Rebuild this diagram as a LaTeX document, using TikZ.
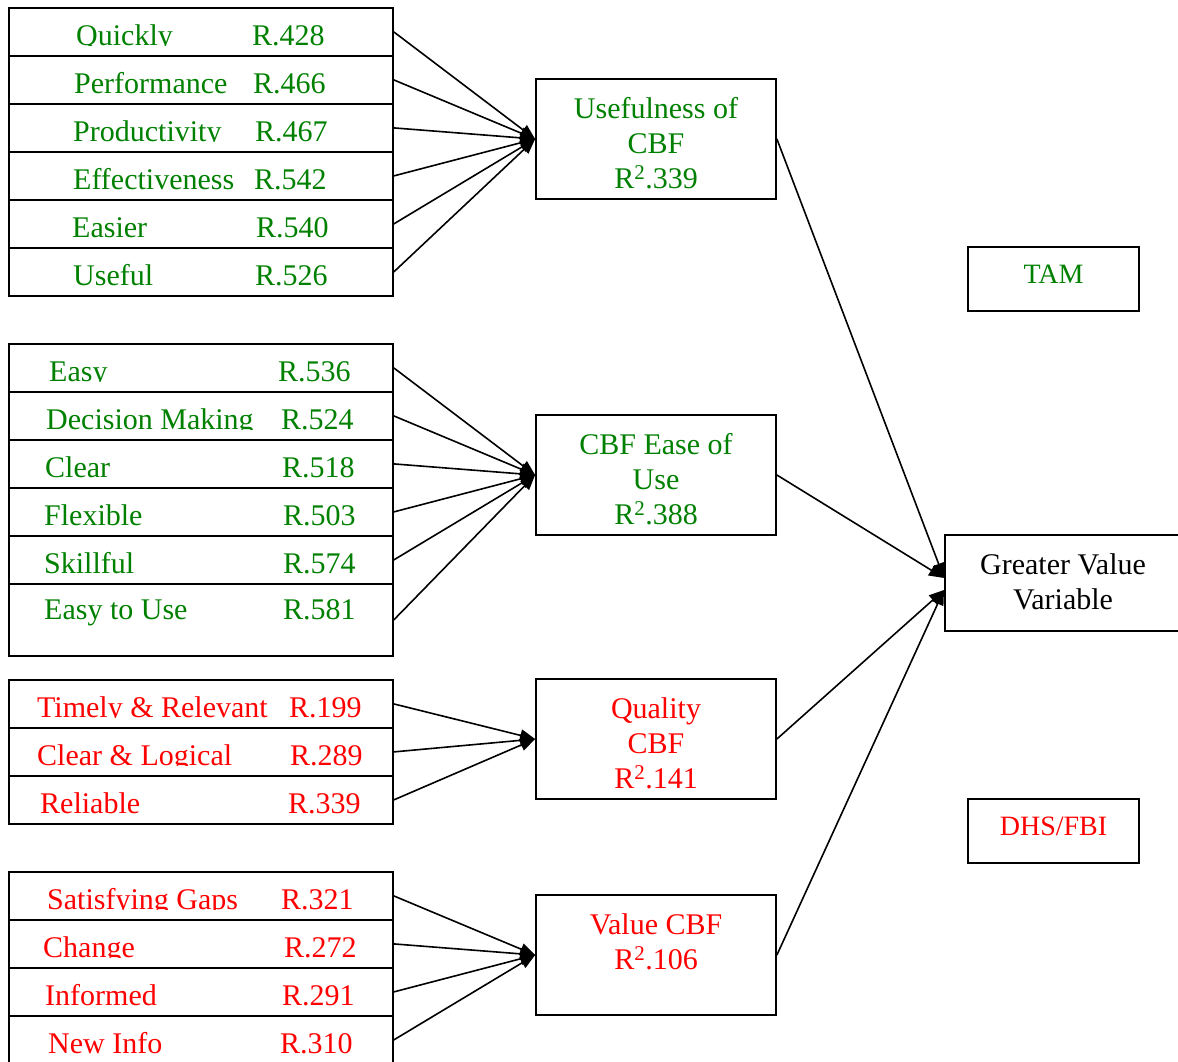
\documentclass[tikz,border=0pt]{standalone}
\usepackage{fontspec}
\setmainfont{Liberation Serif}
\usetikzlibrary{arrows.meta}
\definecolor{itemgreen}{RGB}{0,128,0}
\definecolor{itemred}{RGB}{255,0,0}

\tikzset{
  cell/.style={draw, line width=1.8pt, minimum width=384pt, inner sep=0pt, anchor=north west},
  rowtxt/.style={inner sep=0pt, anchor=base west, font=\fontsize{30}{35}\selectfont},
  construct/.style={draw, line width=1.8pt, minimum width=240pt, minimum height=120pt, inner sep=0pt},
  ctext/.style={inner sep=0pt, anchor=north, align=center, font=\fontsize{30}{35}\selectfont},
  tagbox/.style={draw, line width=1.8pt, minimum width=171pt, minimum height=64pt, inner sep=0pt},
  tagtxt/.style={inner sep=0pt, anchor=base, font=\fontsize{28}{34}\selectfont},
  link/.style={line width=1.6pt, -{Triangle[length=15pt,width=12pt]}},
}

% one indicator row: name, top, height, clip bottom, colour, label x, label, value x, value
\newcommand\itemrow[9]{%
  \node[cell, minimum height=#3pt] (#1) at (8,#2) {};
  \begin{scope}
    \clip (8,#2) rectangle (392,#4);
    \node[rowtxt, text=#5] (#1-name) at (#6,#2+38) {#7};
    \node[rowtxt, text=#5] (#1-val) at (#8,#2+38) {#9};
  \end{scope}}

\begin{document}
\begin{tikzpicture}[x=1pt,y=-1pt]
\useasboundingbox (0,0) rectangle (1178,1061);

% usefulness indicators
\itemrow{u1}{7}{48}{45}{itemgreen}{76}{Quickly}{252}{R.428}
\itemrow{u2}{55}{48}{93}{itemgreen}{74}{Performance}{253}{R.466}
\itemrow{u3}{103}{48}{141}{itemgreen}{73}{Productivity}{255}{R.467}
\itemrow{u4}{151}{48}{189}{itemgreen}{73}{Effectiveness}{254}{R.542}
\itemrow{u5}{199}{48}{237}{itemgreen}{72}{Easier}{256}{R.540}
\itemrow{u6}{247}{48}{285}{itemgreen}{73}{Useful}{255}{R.526}

% ease of use indicators
\itemrow{e1}{343}{48}{381}{itemgreen}{49}{Easy}{278}{R.536}
\itemrow{e2}{391}{48}{429}{itemgreen}{46}{Decision Making}{281}{R.524}
\itemrow{e3}{439}{48}{477}{itemgreen}{45}{Clear}{282}{R.518}
\itemrow{e4}{487}{48}{525}{itemgreen}{44}{Flexible}{283}{R.503}
\itemrow{e5}{535}{48}{573}{itemgreen}{44}{Skillful}{283}{R.574}
\node[cell, minimum height=72pt] (e6) at (8,583) {};
\node[rowtxt, text=itemgreen] (e6-name) at (44,619) {Easy to Use};
\node[rowtxt, text=itemgreen] (e6-val) at (283,619) {R.581};

% quality indicators
\itemrow{q1}{679}{48}{717}{itemred}{37}{Timely \& Relevant}{289}{R.199}
\itemrow{q2}{727}{48}{765}{itemred}{37}{Clear \& Logical}{290}{R.289}
\itemrow{q3}{775}{48}{813}{itemred}{40}{Reliable}{288}{R.339}

% value indicators
\itemrow{v1}{871}{48}{909}{itemred}{47}{Satisfying Gaps}{281}{R.321}
\itemrow{v2}{919}{48}{957}{itemred}{43}{Change}{284}{R.272}
\itemrow{v3}{967}{48}{1005}{itemred}{45}{Informed}{282}{R.291}
\itemrow{v4}{1015}{48}{1053}{itemred}{48}{New Info}{280}{R.310}

% constructs
\node[construct] (use) at (656,139) {};
\node[ctext, text=itemgreen] (use-t) at (656,97.5) {Usefulness of\\CBF\\R\textsuperscript{2}.339};
\node[construct] (ease) at (656,475) {};
\node[ctext, text=itemgreen] (ease-t) at (656,433.5) {CBF Ease of\\Use\\R\textsuperscript{2}.388};
\node[construct] (qual) at (656,739) {};
\node[ctext, text=itemred] (qual-t) at (656,697.5) {Quality\\CBF\\R\textsuperscript{2}.141};
\node[construct] (val) at (656,955) {};
\node[ctext, text=itemred] (val-t) at (656,913.5) {Value CBF\\R\textsuperscript{2}.106};

% outcome
\node[draw, line width=1.8pt, minimum width=260pt, minimum height=96pt, inner sep=0pt, anchor=west] (gv) at (944,583) {};
\node[ctext] (gv-t) at (1063,553.5) {Greater Value\\Variable};
\coordinate (gvA) at ([yshift=5pt]gv.west);
\coordinate (gvB) at ([yshift=-7pt]gv.west);

% source labels
\node[tagbox] (tam) at (1053.5,279) {};
\node[tagtxt, text=itemgreen] (tam-t) at (1053.5,283) {TAM};
\node[tagbox] (dhs) at (1053.5,831) {};
\node[tagtxt, text=itemred] (dhs-t) at (1053.5,835) {DHS/FBI};

% indicator loadings
\foreach \r in {u1,u2,u3,u4,u5,u6} \draw[link] (\r.east) -- (use.west);
\foreach \r in {e1,e2,e3,e4,e5,e6} \draw[link] (\r.east) -- (ease.west);
\foreach \r in {q1,q2,q3} \draw[link] (\r.east) -- (qual.west);
\foreach \r in {v1,v2,v3,v4} \draw[link] (\r.east) -- (val.west);

% construct paths
\draw[link] (use.east) -- (gvA);
\draw[link] (ease.east) -- (gvA);
\draw[link] (qual.east) -- (gvB);
\draw[link] (val.east) -- (gvB);
\end{tikzpicture}
\end{document}
